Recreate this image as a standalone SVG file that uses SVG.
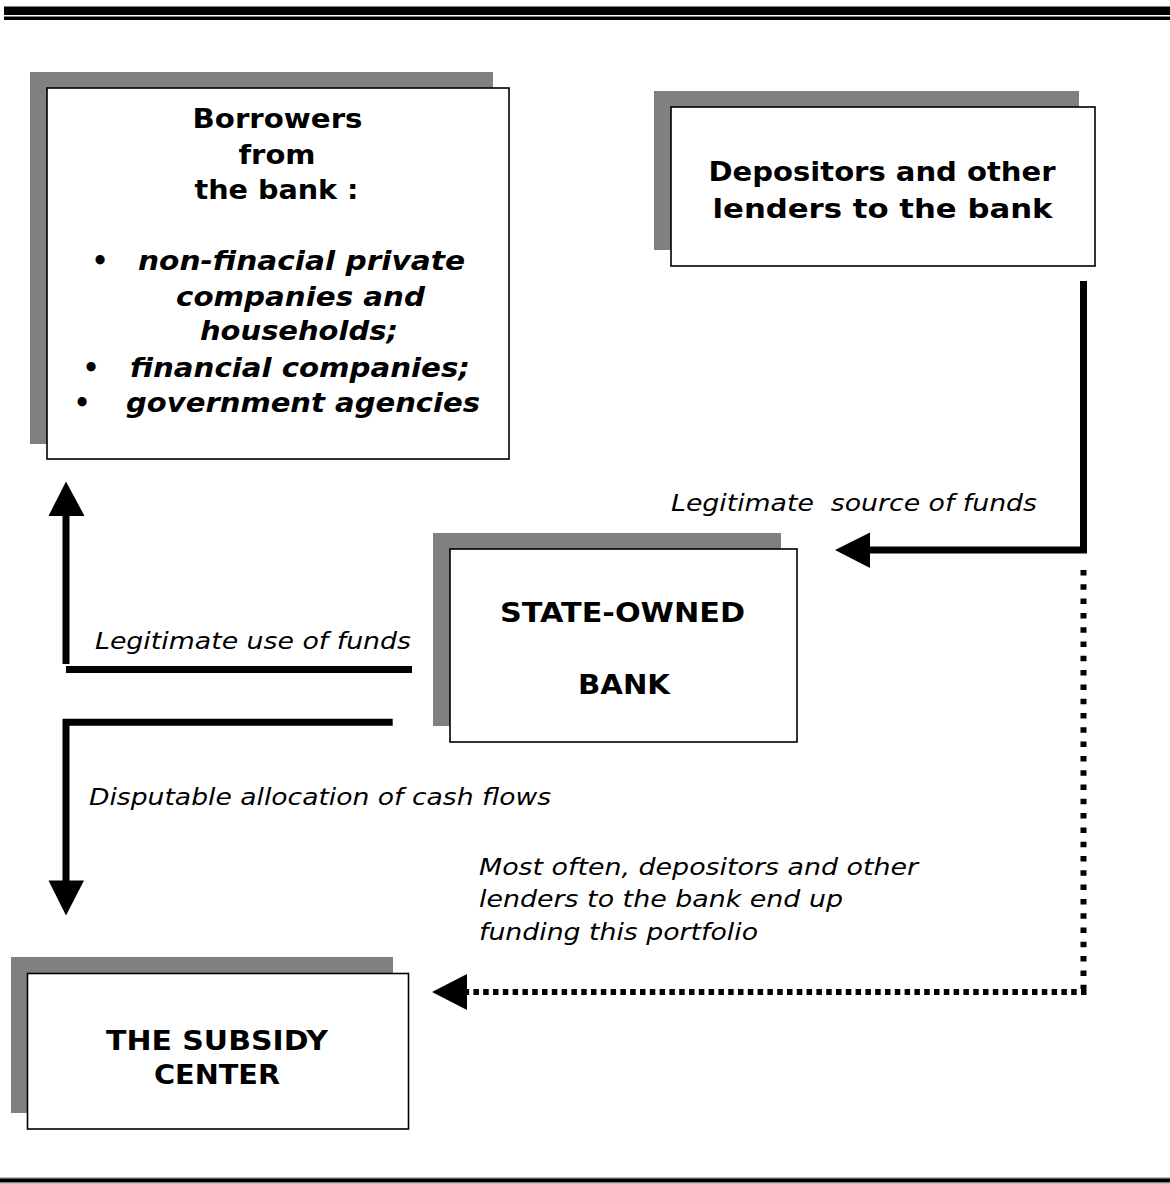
<svg xmlns="http://www.w3.org/2000/svg" width="1170" height="1184" viewBox="0 0 1170 1184">
<style>
.sh{fill:#808080}
.bx{fill:#fff;stroke:#000;stroke-width:1.6}
.b{font-family:"DejaVu Sans","Liberation Sans",sans-serif;font-weight:bold;font-size:26px;fill:#000}
.bi{font-family:"DejaVu Sans","Liberation Sans",sans-serif;font-weight:bold;font-style:italic;font-size:26px;fill:#000}
.i{font-family:"DejaVu Sans","Liberation Sans",sans-serif;font-style:italic;font-size:23px;fill:#000}
.c{text-anchor:middle}
.ln{fill:none;stroke:#000;stroke-width:7}
.dv{fill:none;stroke:#000;stroke-width:6;stroke-dasharray:5.5 8.8}
.dh{fill:none;stroke:#000;stroke-width:6;stroke-dasharray:5.5 4.3}
.ah{fill:#000}
</style>
<rect width="1170" height="1184" fill="#fff"/>
<g id="rules">
<rect x="4" y="6" width="1166" height="1" fill="#808080"/>
<rect x="4" y="7" width="1166" height="8" fill="#000"/>
<rect x="4" y="16" width="1166" height="1" fill="#808080"/>
<rect x="4" y="17" width="1166" height="3" fill="#000"/>
<rect x="0" y="1177.5" width="1170" height="1" fill="#808080"/>
<rect x="0" y="1178.5" width="1170" height="4" fill="#000"/>
<rect x="0" y="1182.5" width="1170" height="1" fill="#808080"/>
</g>
<g id="borrowers">
<rect class="sh" x="30" y="72" width="463" height="372"/>
<rect class="bx" x="47" y="88" width="462" height="371"/>
<text class="b c" x="277.5" y="128" textLength="170" lengthAdjust="spacingAndGlyphs">Borrowers</text>
<text class="b c" x="277" y="164" textLength="77" lengthAdjust="spacingAndGlyphs">from</text>
<text class="b c" x="276.5" y="199" textLength="164" lengthAdjust="spacingAndGlyphs">the bank :</text>
<text class="b c" x="100" y="270">•</text>
<text class="bi" x="138" y="270" textLength="327" lengthAdjust="spacingAndGlyphs">non-finacial private</text>
<text class="bi" x="176" y="306" textLength="249" lengthAdjust="spacingAndGlyphs">companies and</text>
<text class="bi" x="200" y="340" textLength="198" lengthAdjust="spacingAndGlyphs">households;</text>
<text class="b c" x="91" y="377">•</text>
<text class="bi" x="130" y="377" textLength="340" lengthAdjust="spacingAndGlyphs">financial companies;</text>
<text class="b c" x="82" y="412">•</text>
<text class="bi" x="126" y="412" textLength="354" lengthAdjust="spacingAndGlyphs">government agencies</text>
</g>
<g id="depositors">
<rect class="sh" x="654" y="91" width="425" height="159"/>
<rect class="bx" x="671" y="107" width="424" height="159"/>
<text class="b c" x="882" y="181" textLength="347" lengthAdjust="spacingAndGlyphs">Depositors and other</text>
<text class="b c" x="882.5" y="218" textLength="340" lengthAdjust="spacingAndGlyphs">lenders to the bank</text>
</g>
<g id="bank">
<rect class="sh" x="433" y="533" width="348" height="193"/>
<rect class="bx" x="450" y="549" width="347" height="193"/>
<text class="b c" x="622.5" y="622" textLength="245" lengthAdjust="spacingAndGlyphs">STATE-OWNED</text>
<text class="b c" x="624" y="694" textLength="92" lengthAdjust="spacingAndGlyphs">BANK</text>
</g>
<g id="subsidy">
<rect class="sh" x="11" y="957" width="382" height="156"/>
<rect class="bx" x="27.5" y="973.5" width="381" height="155.5"/>
<text class="b c" x="217" y="1050" textLength="222" lengthAdjust="spacingAndGlyphs">THE SUBSIDY</text>
<text class="b c" x="217" y="1084" textLength="126" lengthAdjust="spacingAndGlyphs">CENTER</text>
</g>
<g id="connectors">
<path class="ln" d="M1083.5,281 V550 H868"/>
<polygon class="ah" points="835,550 870,532.5 870,568"/>
<path class="dv" d="M1083.5,570 V989"/>
<path class="dh" d="M1086.5,992 H467"/>
<polygon class="ah" points="432,992 467,974 467,1010"/>
<path class="ln" d="M66,664 V514"/>
<polygon class="ah" points="66,481.5 48.5,516 84.5,516"/>
<path class="ln" d="M66,669.5 H412"/>
<path class="ln" d="M63,722.3 H392.7"/>
<path class="ln" d="M66,719 V882"/>
<polygon class="ah" points="48.5,880.5 84,880.5 66,915.5"/>
</g>
<g id="labels">
<text class="i" x="671" y="511" textLength="366" lengthAdjust="spacingAndGlyphs" xml:space="preserve">Legitimate  source of funds</text>
<text class="i" x="95" y="649" textLength="316" lengthAdjust="spacingAndGlyphs">Legitimate use of funds</text>
<text class="i" x="89" y="805" textLength="462" lengthAdjust="spacingAndGlyphs">Disputable allocation of cash flows</text>
<text class="i" x="479" y="875" textLength="439" lengthAdjust="spacingAndGlyphs">Most often, depositors and other</text>
<text class="i" x="479" y="907" textLength="364" lengthAdjust="spacingAndGlyphs">lenders to the bank end up</text>
<text class="i" x="479" y="940" textLength="279" lengthAdjust="spacingAndGlyphs">funding this portfolio</text>
</g>
</svg>
